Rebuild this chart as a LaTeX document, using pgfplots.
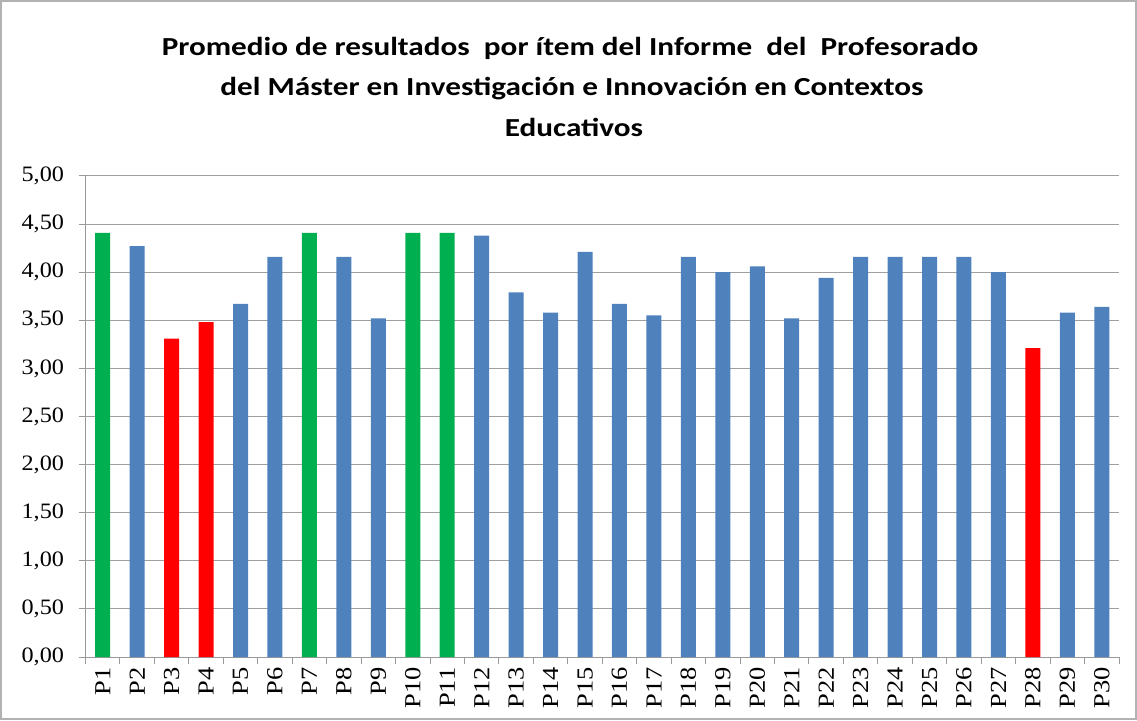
\documentclass[border=0pt]{standalone}
\usepackage{pgfplots}
\pgfplotsset{compat=1.18}
\usepackage{fontspec}
\setmainfont[FakeStretch=1.2]{Carlito}
\newfontfamily\tickfont[FakeStretch=1.1]{Liberation Serif}
\newfontfamily\xtickfont[FakeStretch=1.15]{Liberation Serif}
\definecolor{cgreen}{HTML}{00B050}
\definecolor{cblue}{HTML}{4F81BD}
\definecolor{cred}{HTML}{FF0000}
\begin{document}
\begin{tikzpicture}
\useasboundingbox (0pt,0pt) rectangle (1137pt,720pt);
\draw[gray!60, line width=1.5pt] (1pt,1pt) rectangle (1136pt,719pt);
\node[anchor=base, font=\bfseries\fontsize{26}{30}\selectfont] at (570pt,664pt) {Promedio de resultados\ \ por ítem del Informe\ \ del\ \ Profesorado};
\node[anchor=base, font=\bfseries\fontsize{26}{30}\selectfont] at (572pt,624.5pt) {del Máster en Investigación e Innovación en Contextos};
\node[anchor=base, font=\bfseries\fontsize{26}{30}\selectfont] at (574pt,583pt) {Educativos};
\begin{axis}[
  at={(85.5pt,63pt)}, anchor=south west,
  scale only axis, width=1033.5pt, height=481pt,
  xmin=0.5, xmax=30.5, ymin=0, ymax=5,
  axis lines*=left,
  axis line style={gray!80, line width=1pt},
  ybar, bar width=15pt,
  ytick={0,0.5,1,1.5,2,2.5,3,3.5,4,4.5,5},
  ymajorgrids, grid style={gray!75, line width=1pt},
  tick align=outside,
  major tick length=7pt, minor tick length=7pt,
  tick style={gray!80, line width=1pt},
  y tick label style={font=\tickfont\fontsize{22}{22}\selectfont, xshift=-11pt},
  yticklabel style={/pgf/number format/.cd, fixed, fixed zerofill, precision=2, use comma, assume math mode=true},
  xtick={1,2,...,30},
  xticklabels={P1,P2,P3,P4,P5,P6,P7,P8,P9,P10,P11,P12,P13,P14,P15,P16,P17,P18,P19,P20,P21,P22,P23,P24,P25,P26,P27,P28,P29,P30},
  x tick label style={rotate=90, anchor=east, font=\xtickfont\fontsize{23}{23}\selectfont},
  major x tick style={draw=none},
  minor xtick={0.5,1.5,...,30.5},
]
\addplot[fill=cgreen, draw=none, bar shift=0pt] coordinates {(1,4.41) (7,4.41) (10,4.41) (11,4.41)};
\addplot[fill=cred, draw=none, bar shift=0pt] coordinates {(3,3.31) (4,3.48) (28,3.21)};
\addplot[fill=cblue, draw=none, bar shift=0pt] coordinates {
(2,4.27) (5,3.67) (6,4.16) (8,4.16) (9,3.52) (12,4.38) (13,3.79) (14,3.58) (15,4.21)
(16,3.67) (17,3.55) (18,4.16) (19,4.00) (20,4.06) (21,3.52) (22,3.94) (23,4.16) (24,4.16)
(25,4.16) (26,4.16) (27,4.00) (29,3.58) (30,3.64)};
\end{axis}
\end{tikzpicture}
\end{document}
